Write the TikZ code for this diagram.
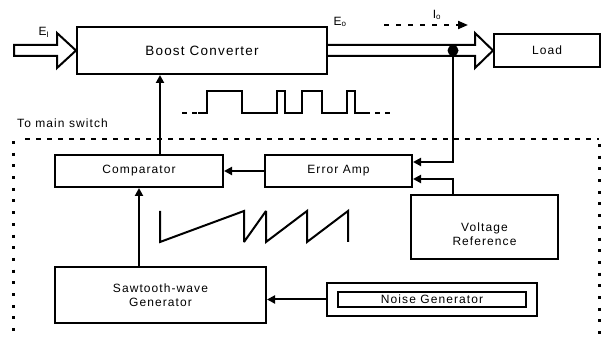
\documentclass[tikz,border=0pt]{standalone}
\usepackage{fontspec}
\setmainfont{Liberation Sans}[LetterSpace=9]
\usetikzlibrary{arrows.meta}

\begin{document}
\begin{tikzpicture}[x=1pt, y=-1pt,
    blk/.style={draw, line width=2pt, align=center, inner sep=0pt, font=\fontsize{12}{14}\selectfont},
    wire/.style={line width=2pt, miter limit=3},
    conn/.style={wire, -{Triangle[length=8pt, width=8pt]}},
    lbl/.style={inner sep=0pt, font=\fontsize{12}{14}\selectfont},
    dot/.style={circle, fill, inner sep=0pt, minimum size=11pt}
  ]
  \useasboundingbox (0,0) rectangle (603,344);

  \node[blk, minimum width=250pt, minimum height=47pt, font=\fontsize{13.5}{16}\selectfont] (boost) at (202,50.5) {Boost Converter};
  \node[blk, minimum width=106pt, minimum height=33pt] (load) at (547,50.5) {Load};
  \node[blk, minimum width=168pt, minimum height=32pt] (comp) at (139,171) {Comparator};
  \node[blk, minimum width=147pt, minimum height=32pt] (erramp) at (338.5,171) {Error Amp};
  \node[blk, minimum width=147pt, minimum height=64pt] (vref) at (484.5,227) {\rule{0pt}{23pt}Voltage\\Reference};
  \node[blk, minimum width=211pt, minimum height=56pt] (saw) at (160.5,295) {Sawtooth-wave\\Generator};
  \node[blk, minimum width=210pt, minimum height=33pt] (noise) at (432,299.5) {};
  \node[blk, minimum width=188pt, minimum height=15pt] (noisein) at (noise.center) {Noise Generator};
  \node[dot] (tap) at (453,50.5) {};

  % power path
  \draw[wire] (14,45) -- (57,45) -- (57,33) -- (boost.west) -- (57,68) -- (57,56) -- (14,56) -- cycle;
  \draw[wire] (boost.east |- 0,45) -- (475,45) -- (475,33) -- (load.west) -- (475,68) -- (475,56) -- (boost.east |- 0,56);
  \node[lbl] (ein) at (44,32) {E\textsubscript{I}};
  \node[lbl] (eout) at (340,22) {E\textsubscript{o}};
  \node[lbl] (iout) at (437,15) {I\textsubscript{o}};
  \coordinate (io0) at (384,25);
  \coordinate (io1) at (468,25);
  \draw[conn, dash pattern=on 5pt off 7pt, -{Triangle[length=10pt, width=8pt]}] (io0) -- (io1);

  % control loop
  \draw[conn] ([xshift=21pt]comp.north) -- ([xshift=21pt]comp.north |- boost.south);
  \draw[conn] (tap.center) |- ([yshift=9pt]erramp.east);
  \draw[conn] (tap |- vref.north) |- ([yshift=-8pt]erramp.east);
  \draw[conn] (erramp.west) -- (comp.east);
  \draw[conn] (comp.south |- saw.north) -- (comp.south);
  \draw[conn] (noise.west) -- (noise.west -| saw.east);

  % waveforms
  \draw[wire, dash pattern=on 5pt off 5pt] (182,113) -- (198,113);
  \draw[wire] (198,113) -- (207,113) -- (207,91) -- (242,91) -- (242,113) -- (277,113) -- (277,91) -- (285,91) -- (285,113)
    -- (302,113) -- (302,91) -- (322,91) -- (322,113) -- (347,113) -- (347,91) -- (355,91) -- (355,113) -- (370,113);
  \draw[wire, dash pattern=on 5pt off 5pt] (375,113) -- (391,113);
  \draw[wire] (160,211) -- (160,242) -- (244,211) -- (244,242) -- (266,211) -- (266,242) -- (307,211) -- (307,242) -- (348,211) -- (348,242);

  % switch boundary
  \node[lbl, anchor=west] (tomain) at (17,123) {To main switch};
  \draw[line width=2pt, dash pattern=on 5pt off 6pt] (25,139) -- (599,139);
  \draw[line width=3pt, dash pattern=on 3pt off 8.7pt] (13,141) -- (13,337);
  \draw[line width=3pt, dash pattern=on 3pt off 8.7pt] (599,144) -- (599,337);
\end{tikzpicture}
\end{document}
